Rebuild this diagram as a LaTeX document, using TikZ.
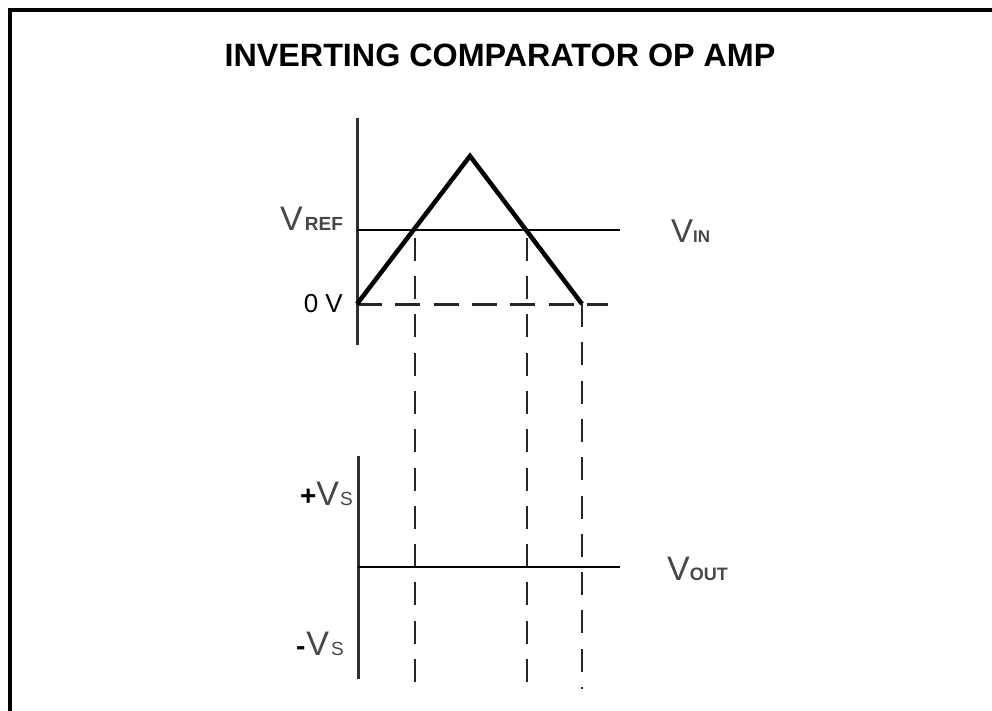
\documentclass[tikz,border=0pt]{standalone}
\usepackage{fontspec}
\setmainfont{Liberation Sans}
\definecolor{axisgray}{HTML}{303030}
\definecolor{labelgray}{HTML}{474747}
\newcommand{\fs}[1]{\fontsize{#1}{#1}\selectfont}
\begin{document}
\begin{tikzpicture}[x=1pt,y=-1pt,
  axisline/.style={draw=axisgray,line width=3pt},
  thinline/.style={draw=black,line width=2.3pt},
  wave/.style={draw=black,line width=4.5pt,line join=miter},
  dashline/.style={draw=black!85,line width=2.8pt,dash pattern=on 23pt off 15.3pt},
  dashh/.style={draw=black!85,line width=3pt,dash pattern=on 25pt off 13.3pt},
  lbl/.style={inner sep=0pt,text=labelgray}]
\useasboundingbox (0,0) rectangle (992,711);
\clip (0,0) rectangle (992,711);
\fill[white] (0,0) rectangle (992,711);
\draw[line width=4pt] (10,10) rectangle (1010,730);

% title
\node[inner sep=0pt,anchor=base] (title) at (500,67) {\fs{32.3}\bfseries INVERTING COMPARATOR OP AMP};

% coordinates
\coordinate (a1t) at (357,118);
\coordinate (a1b) at (357,345);
\coordinate (z0) at (357,304);
\coordinate (pk) at (470,156);
\coordinate (zr) at (582,304);
\coordinate (r0) at (357,230);
\coordinate (r1) at (620,230);
\coordinate (d1) at (608,304);
\coordinate (c1t) at (415,230);
\coordinate (c1b) at (415,682);
\coordinate (c2t) at (527,230);
\coordinate (c2b) at (527,682);
\coordinate (c3b) at (582,689);
\coordinate (a2t) at (358,456);
\coordinate (a2b) at (358,679);
\coordinate (o0) at (358,567);
\coordinate (o1) at (620,567);

% upper graph
\draw[axisline] (a1t) -- (a1b);
\draw[thinline] (r0) -- (r1);
\draw[dashh] (z0) -- (d1);
\draw[dashline] (c1b) -- (c1t);
\draw[dashline] (c2b) -- (c2t);
\draw[dashline] (zr) -- (c3b);
\draw[wave] (z0) -- (pk) -- (zr);

% lower graph
\draw[axisline] (a2t) -- (a2b);
\draw[thinline] (o0) -- (o1);

% labels
\node[lbl,anchor=base west] (vref) at (280,230) {\fs{34}V\hspace{2pt}\fs{19}\bfseries REF};
\node[inner sep=0pt,anchor=base east] (zerov) at (343,312) {\fs{26}0 V};
\node[lbl,anchor=base west] (vin) at (671,242) {\fs{33}V\fs{17}\bfseries IN};
\node[lbl,anchor=base west] (vout) at (667,580) {\fs{34}V\fs{18}\bfseries OUT};
\node[lbl,anchor=base east] (pvs) at (353,505) {{\fs{28}\bfseries\color{black}+}\fs{34}V\hspace{1pt}\fs{19}S};
\node[lbl,anchor=base east] (nvs) at (344,655) {{\fs{28}\bfseries\color{black}-}\hspace{1pt}\fs{34}V\hspace{2pt}\fs{19}S};
\end{tikzpicture}
\end{document}
